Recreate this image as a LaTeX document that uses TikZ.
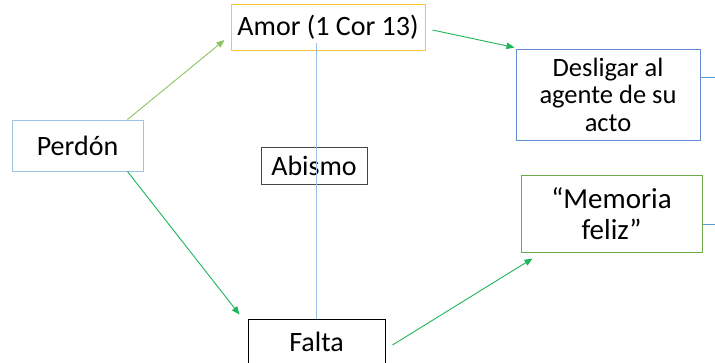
\documentclass[tikz,border=0pt]{standalone}
\usepackage{fontspec}
\setmainfont{Carlito}
\usetikzlibrary{arrows.meta,calc}
\definecolor{amorc}{RGB}{255,196,50}
\definecolor{desc}{RGB}{100,140,210}
\definecolor{perdc}{RGB}{157,195,230}
\definecolor{abisc}{RGB}{70,70,70}
\definecolor{memc}{RGB}{112,173,71}
\definecolor{arrg}{RGB}{30,180,90}
\definecolor{arrlg}{RGB}{140,195,100}
\definecolor{vlinec}{RGB}{150,190,230}
\definecolor{stubc}{RGB}{91,155,213}
\tikzset{
  box/.style={draw, line width=1pt, fill=white, inner sep=0pt, align=center,
    font=\fontsize{28}{31}\selectfont},
  conn/.style={line width=0.9pt, -{Triangle[length=8pt,width=6.5pt]}},
}
\begin{document}
\begin{tikzpicture}[x=1pt,y=-1pt]
\useasboundingbox (0,0) rectangle (715,362);
\begin{scope}
\clip (0,0) rectangle (715,362);
\node[box, draw=amorc, minimum width=194pt, minimum height=46pt] (amor) at (328,27) {Amor (1 Cor 13)};
\node[box, draw=desc, minimum width=184pt, minimum height=91pt, font=\fontsize{26.5}{27.5}\selectfont] (des) at (608,94.5) {Desligar al\\agente de su\\acto};
\node[box, draw=perdc, minimum width=131pt, minimum height=51pt] (perdon) at (77.5,145.5) {Perdón};
\node[box, draw=abisc, minimum width=106pt, minimum height=37pt] (abismo) at (314,165.5) {Abismo};
\node[box, draw=memc, minimum width=181pt, minimum height=77pt, font=\fontsize{29}{31}\selectfont] (mem) at (611.5,213.5) {“Memoria\\feliz”};
\node[box, draw=black, minimum width=137pt, minimum height=46pt] (falta) at (316.5,342) {Falta};

\path ([yshift=8pt]amor.south) coordinate (amortop);
\draw[vlinec, line width=1pt] (falta.north) -- (falta.north |- amortop);

\draw[conn, arrlg] ([xshift=-16pt]perdon.north east) -- ([xshift=-6pt,yshift=-13pt]amor.west);
\draw[conn, arrg] ([xshift=-16pt]perdon.south east) -- ([xshift=-8pt,yshift=4pt]falta.north west);
\draw[conn, arrg] ([xshift=7pt,yshift=-3pt]amor.east) -- ([xshift=-1pt,yshift=1pt]des.north west);
\draw[conn, arrg] ([xshift=7pt,yshift=-3pt]falta.east) -- ([xshift=12pt,yshift=-6pt]mem.south west);

\coordinate (edge1) at (715,0);
\draw[stubc, line width=1pt] ([yshift=17.5pt]des.east) -- ([yshift=17.5pt]des.east -| edge1);
\draw[stubc, line width=1pt] ([yshift=-10.5pt]mem.east) -- ([yshift=-10.5pt]mem.east -| edge1);
\end{scope}
\end{tikzpicture}
\end{document}
